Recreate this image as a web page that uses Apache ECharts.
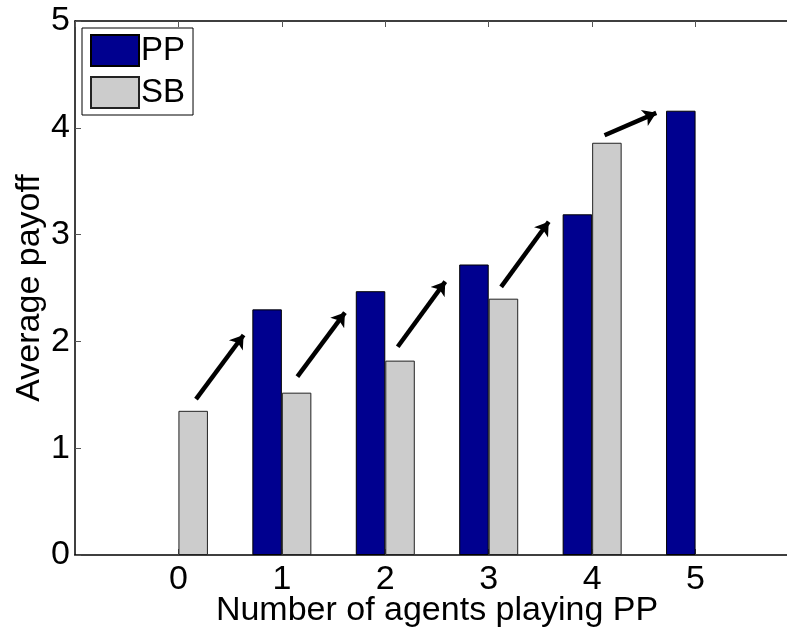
<!DOCTYPE html>
<html>
<head>
<meta charset="utf-8">
<script src="https://cdn.jsdelivr.net/npm/echarts@6/dist/echarts.min.js"></script>
<style>html,body{margin:0;padding:0;background:#fff}#c{width:787px;height:628px}</style>
</head>
<body>
<div id="c"></div>
<script>
// Data
var categories = ['', '0', '1', '2', '3', '4', '5', ''];
var ppValues = [null, null, 2.30, 2.47, 2.72, 3.19, 4.16, null];
var sbValues = [null, 1.35, 1.52, 1.82, 2.40, 3.86, null, null];
var yTicks = [0, 1, 2, 3, 4, 5];
// Arrows (in data coordinates: x = number of agents, y = payoff)
var arrowFromX = [0.17, 1.15, 2.12, 3.12, 4.12];
var arrowFromY = [1.46, 1.67, 1.95, 2.51, 3.93];
var arrowToX = [0.63, 1.61, 2.58, 3.58, 4.62];
var arrowToY = [2.06, 2.27, 2.56, 3.12, 4.14];

var arrowData = arrowFromX.map(function (x, i) {
  return { coords: [[x, arrowFromY[i]], [arrowToX[i], arrowToY[i]]] };
});

var FONT = 'Liberation Sans, Arial, sans-serif';
var chart = echarts.init(document.getElementById('c'), null, { renderer: 'canvas' });
chart.setOption({
  animation: false,
  backgroundColor: '#fff',
  textStyle: { fontFamily: FONT, color: '#000' },
  grid: { left: 75, top: 21, right: -12, bottom: 73, containLabel: false, outerBoundsMode: 'none' },
  legend: {
    orient: 'vertical',
    left: 82, top: 28,
    itemWidth: 48, itemHeight: 31, itemGap: 9,
    padding: [6, 8, 6, 8],
    borderColor: '#000', borderWidth: 1,
    backgroundColor: '#fff',
    icon: 'rect',
    textStyle: { fontSize: 33, fontFamily: FONT, color: '#000', padding: [0, 0, 0, -3] },
    data: ['PP', 'SB']
  },
  xAxis: [{
    type: 'category',
    data: categories,
    boundaryGap: false,
    position: 'bottom',
    axisLine: { onZero: false, lineStyle: { color: '#000', width: 1.5 } },
    axisTick: {
      inside: true, length: 6, lineStyle: { color: '#555', width: 1 },
      interval: function (i) { return i >= 1 && i <= 6; }
    },
    axisLabel: { fontSize: 34, color: '#000', margin: 8, interval: 0, fontFamily: FONT },
    splitLine: { show: false },
    name: 'Number of agents playing PP',
    nameLocation: 'middle',
    nameGap: 39,
    nameMoveOverlap: false,
    nameTextStyle: { fontSize: 34, color: '#000', fontFamily: FONT }
  }, {
    type: 'value',
    min: -1, max: 6, interval: 1,
    position: 'top',
    axisLine: { show: true, onZero: false, lineStyle: { color: '#000', width: 1.5 } },
    axisTick: { show: true, inside: true, length: 6, lineStyle: { color: '#555', width: 1 } },
    axisLabel: { show: false },
    splitLine: { show: false }
  }],
  yAxis: {
    type: 'value',
    min: 0, max: 5, interval: 1,
    position: 'left',
    axisLine: { show: true, onZero: false, lineStyle: { color: '#000', width: 1.5 } },
    axisTick: { show: true, inside: true, length: 6, lineStyle: { color: '#555', width: 1 } },
    axisLabel: { fontSize: 34, color: '#000', margin: 5, fontFamily: FONT },
    splitLine: { show: false },
    name: 'Average payoff',
    nameLocation: 'middle',
    nameGap: 28,
    nameMoveOverlap: false,
    nameTextStyle: { fontSize: 34, color: '#000', fontFamily: FONT }
  },
  series: [{
    name: 'PP', type: 'bar', xAxisIndex: 0, data: ppValues,
    barWidth: 29.5, barGap: '0%',
    itemStyle: { color: '#00008f', borderColor: '#000', borderWidth: 1 }
  }, {
    name: 'SB', type: 'bar', xAxisIndex: 0, data: sbValues,
    barWidth: 29.5, barGap: '0%',
    itemStyle: { color: '#cccccc', borderColor: '#222', borderWidth: 1 }
  }, {
    type: 'lines',
    coordinateSystem: 'cartesian2d',
    xAxisIndex: 1, yAxisIndex: 0,
    symbol: ['none', 'arrow'],
    symbolSize: 13,
    lineStyle: { color: '#000', width: 4.5, opacity: 1, curveness: 0 },
    data: arrowData,
    z: 5
  }]
});
</script>
</body>
</html>
